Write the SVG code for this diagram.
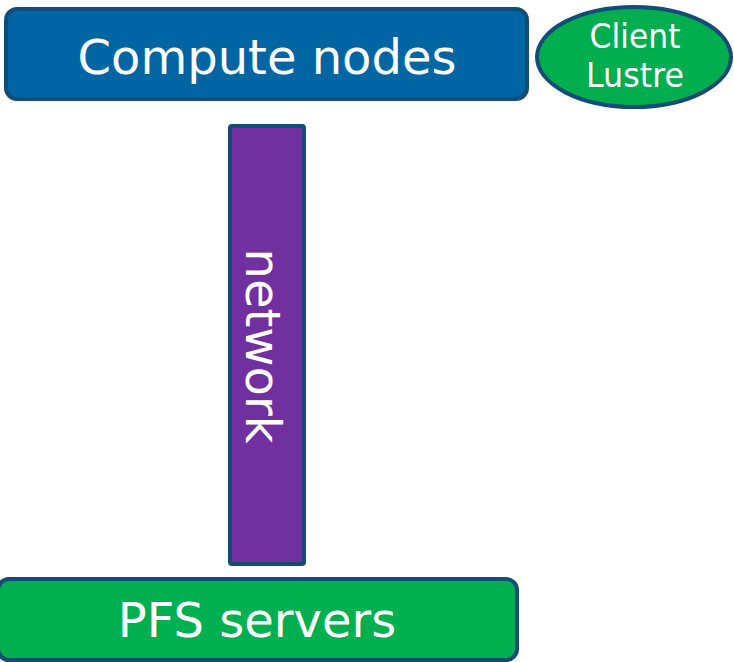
<svg xmlns="http://www.w3.org/2000/svg" width="734" height="662" viewBox="0 0 734 662">
  <style>
    .shape { stroke: #134c75; stroke-width: 4; }
    .label { fill: #ffffff; font-family: "DejaVu Sans", Verdana, sans-serif; text-anchor: middle; }
  </style>
  <rect width="734" height="662" fill="#ffffff"/>

  <g id="compute-nodes">
    <rect class="shape" x="6" y="9" width="521" height="90" rx="11" fill="#0065a3"/>
    <text class="label" x="267" y="74" font-size="48">Compute nodes</text>
  </g>

  <g id="client-lustre">
    <ellipse class="shape" cx="634" cy="57" rx="97" ry="50" fill="#00ad4f" stroke-width="5"/>
    <text class="label" x="635" y="48" font-size="34" textLength="91" lengthAdjust="spacingAndGlyphs">Client</text>
    <text class="label" x="635" y="87" font-size="34" textLength="98" lengthAdjust="spacingAndGlyphs">Lustre</text>
  </g>

  <g id="network">
    <rect class="shape" x="230" y="126" width="74" height="438" rx="2" fill="#7030a0"/>
    <text class="label" font-size="48" transform="translate(246,346) rotate(90)">network</text>
  </g>

  <g id="pfs-servers">
    <rect class="shape" x="-2" y="579" width="519" height="81" rx="11" fill="#00b050"/>
    <text class="label" x="257" y="637" font-size="48">PFS servers</text>
  </g>

  <g id="connectors"/>
</svg>
